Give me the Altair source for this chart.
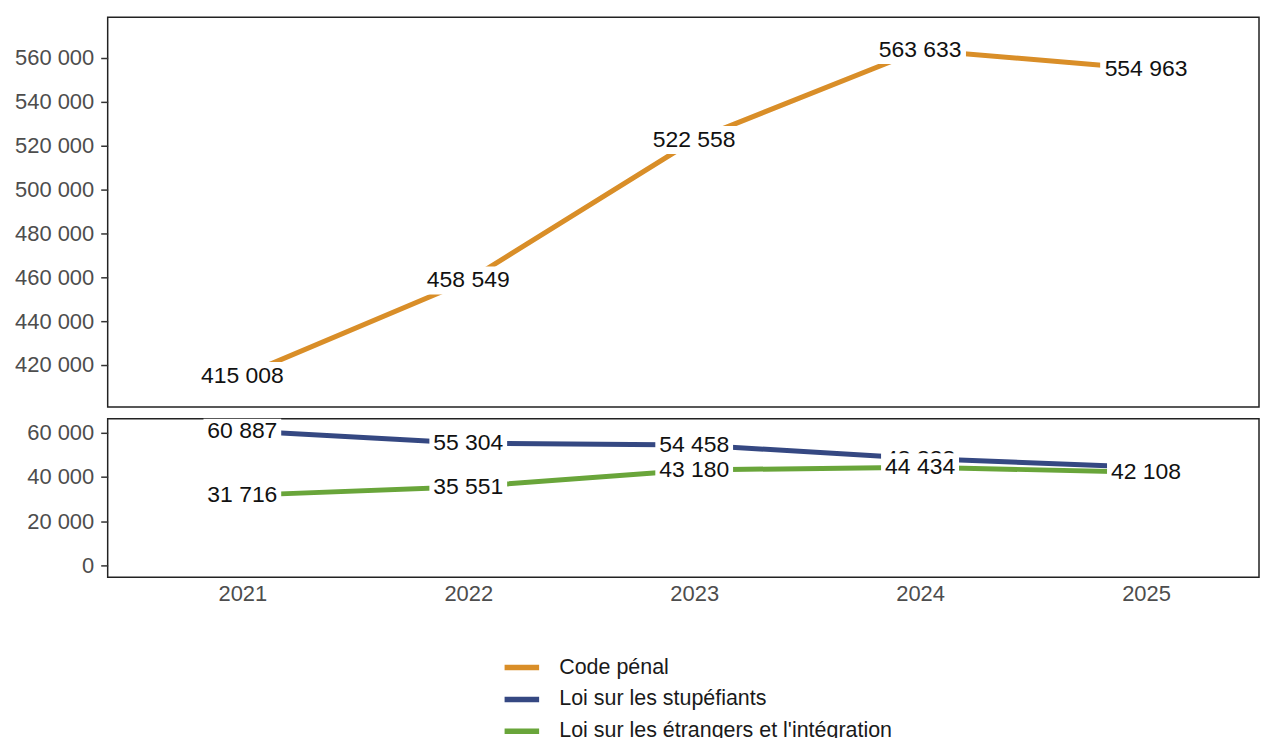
import altair as alt
import pandas as pd

years = [2021, 2022, 2023, 2024, 2025]
code_penal = [415008, 458549, 522558, 563633, 554963]
stupefiants = [60887, 55304, 54458, 48338, 44400]
etrangers = [31716, 35551, 43180, 44434, 42108]
series_names = ["Code pénal", "Loi sur les stupéfiants", "Loi sur les étrangers et l'intégration"]
colors = ["#D98E28", "#354882", "#69A53A"]
top_ticks = [420000, 440000, 460000, 480000, 500000, 520000, 540000, 560000]
bottom_ticks = [0, 20000, 40000, 60000]


def fmt(v):
    return f"{v:,}".replace(",", " ")


rows = []
for name, vals in zip(series_names, [code_penal, stupefiants, etrangers]):
    for yr, v in zip(years, vals):
        rows.append({"year": yr, "value": v, "series": name, "label": fmt(v)})
df = pd.DataFrame(rows)

FONT = "Liberation Sans"
label_expr = "replace(format(datum.value, ','), regexp(',', 'g'), ' ')"

xscale = alt.Scale(domain=[2020.404, 2025.5], nice=False, zero=False)

color = alt.Color(
    "series:N",
    scale=alt.Scale(domain=series_names, range=colors),
    legend=alt.Legend(
        title=None,
        orient="none",
        legendX=395,
        legendY=632,
        direction="vertical",
        symbolType="stroke",
        symbolStrokeWidth=5.5,
        symbolSize=1200,
        labelFontSize=21.5,
        labelFont=FONT,
        labelColor="#1a1a1a",
        labelOffset=17,
        rowPadding=0,
        labelLimit=600,
    ),
)


def y_axis(ticks):
    return alt.Axis(
        values=ticks,
        labelExpr=label_expr,
        title=None,
        grid=False,
        domain=False,
        tickSize=7,
        tickWidth=1.5,
        tickColor="#333333",
        labelColor="#4D4D4D",
        labelFontSize=22,
        labelFont=FONT,
        labelPadding=7,
        minExtent=94,
        maxExtent=94,
    )


def panel(series_list, domain, ticks, height, half_w, show_x):
    base = alt.Chart(df).transform_filter(
        alt.FieldOneOfPredicate(field="series", oneOf=series_list)
    )
    if show_x:
        xaxis = alt.Axis(
            values=years,
            format="d",
            title=None,
            grid=False,
            domain=False,
            ticks=False,
            labelColor="#4D4D4D",
            labelFontSize=22,
            labelFont=FONT,
            labelPadding=6,
        )
    else:
        xaxis = None
    x = alt.X("year:Q", scale=xscale, axis=xaxis)
    y = alt.Y("value:Q", scale=alt.Scale(domain=domain, nice=False, zero=False), axis=y_axis(ticks))
    lines = base.mark_line(strokeWidth=5, strokeCap="butt", clip=True).encode(
        x=x, y=y, color=color, detail="series:N"
    )
    layers = [lines]
    for s in series_list:
        sb = base.transform_filter(alt.datum.series == s)
        box = sb.mark_rect(
            color="white", xOffset=-half_w, x2Offset=half_w, yOffset=-14, y2Offset=14, clip=True
        ).encode(x="year:Q", x2="year:Q", y="value:Q", y2="value:Q")
        txt = sb.mark_text(fontSize=23, font=FONT, color="#111111", clip=True).encode(
            x="year:Q", y="value:Q", text="label:N"
        )
        layers += [box, txt]
    return alt.layer(*layers).properties(width=1155, height=height)


top = panel([series_names[0]], [400900, 578600], top_ticks, 391, 46, False)
bottom = panel(series_names[1:], [-5400, 66300], bottom_ticks, 159, 39, True)

chart = (
    alt.vconcat(top, bottom, spacing=10)
    .properties(padding={"left": 5, "top": 7, "right": 0, "bottom": 0}, background="white")
    .configure(font=FONT)
    .configure_view(stroke="#222222", strokeWidth=1.5)
)

chart.save("out.html", embed_options={"renderer": "svg", "actions": False})
